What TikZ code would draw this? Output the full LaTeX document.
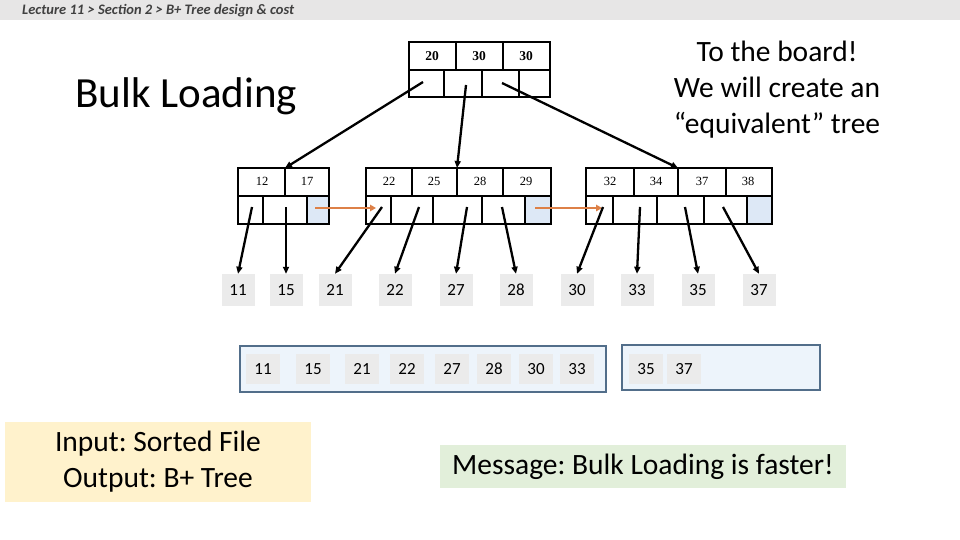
\documentclass[tikz,border=0pt]{standalone}
\usepackage{fontspec}
\setmainfont{Carlito}
\newfontfamily\keyfont{Liberation Serif}
\usepackage{tikz}
\usetikzlibrary{arrows.meta}
\definecolor{barbg}{RGB}{231,230,230}
\definecolor{bartext}{RGB}{64,64,64}
\definecolor{nextcell}{RGB}{221,232,246}
\definecolor{nextarrow}{RGB}{221,128,71}
\definecolor{entrygray}{RGB}{235,235,235}
\definecolor{pagefill}{RGB}{237,244,251}
\definecolor{pageline}{RGB}{82,110,138}
\definecolor{inputfill}{RGB}{255,242,204}
\definecolor{msgfill}{RGB}{226,239,218}
\frenchspacing

\tikzset{
  outline/.style={line width=2.4pt, line join=miter},
  divider/.style={line width=1.3pt},
  rootkey/.style={font=\keyfont\bfseries\fontsize{13.5}{15}\selectfont},
  leafkey/.style={font=\keyfont\fontsize{12.5}{14}\selectfont},
  ptr/.style={line width=2.3pt, -{Triangle[length=7pt,width=6pt]}},
  nextptr/.style={nextarrow, line width=2.6pt, -{Triangle[length=6pt,width=6.5pt]}},
  entry/.style={fill=entrygray, minimum width=33pt, minimum height=32pt, inner sep=0pt,
    font=\fontsize{17}{20}\selectfont},
  pageentry/.style={fill=entrygray, minimum width=34pt, minimum height=30pt, inner sep=0pt,
    font=\fontsize{17}{20}\selectfont},
  bigtext/.style={font=\fontsize{29.5}{36}\selectfont, align=center}
}

\begin{document}
\begin{tikzpicture}[x=1pt, y=-1pt]
  \useasboundingbox (0,0) rectangle (960,540);

  % header bar
  \fill[barbg] (0,0) rectangle (960,20);
  \node[anchor=base west, inner sep=0pt, text=bartext, font=\bfseries\itshape\fontsize{14.5}{16}\selectfont] (crumb) at (22,14.5)
    {Lecture 11 > Section 2 > B+ Tree design \& cost};

  \node[anchor=base west, inner sep=0pt, font=\fontsize{43}{50}\selectfont] (title) at (75,108) {Bulk Loading};
  \node[bigtext] (board) at (777,90) {To the board!\\We will create an\\“equivalent” tree};

  % root
  \draw[divider] (409,70) -- (550,70);
  \draw[divider] (456,42) -- (456,70);
  \draw[divider] (503,42) -- (503,70);
  \draw[divider] (444,70) -- (444,97);
  \draw[divider] (482,70) -- (482,97);
  \draw[divider] (519,70) -- (519,97);
  \draw[outline] (409,42) rectangle (550,97);
  \node[rootkey] (k20) at (432,56) {20};
  \node[rootkey] (k30a) at (479,56) {30};
  \node[rootkey] (k30b) at (526,56) {30};

  % leaf 1
  \fill[nextcell] (307,196) rectangle (329,224);
  \draw[divider] (238,196) -- (329,196);
  \draw[divider] (285,168) -- (285,196);
  \draw[divider] (263,196) -- (263,224);
  \draw[divider] (307,196) -- (307,224);
  \draw[outline] (238,168) rectangle (329,224);
  \node[leafkey] (k12) at (262,181) {12};
  \node[leafkey] (k17) at (307,181) {17};

  % leaf 2
  \fill[nextcell] (525,196) rectangle (551,224);
  \draw[divider] (366,196) -- (551,196);
  \draw[divider] (412,168) -- (412,196);
  \draw[divider] (457,168) -- (457,196);
  \draw[divider] (503,168) -- (503,196);
  \draw[divider] (391,196) -- (391,224);
  \draw[divider] (433,196) -- (433,224);
  \draw[divider] (482,196) -- (482,224);
  \draw[divider] (525,196) -- (525,224);
  \draw[outline] (366,168) rectangle (551,224);
  \node[leafkey] (k22) at (389,181) {22};
  \node[leafkey] (k25) at (434,181) {25};
  \node[leafkey] (k28) at (480,181) {28};
  \node[leafkey] (k29) at (526,181) {29};

  % leaf 3
  \fill[nextcell] (747,196) rectangle (772,224);
  \draw[divider] (586,196) -- (772,196);
  \draw[divider] (634,168) -- (634,196);
  \draw[divider] (678,168) -- (678,196);
  \draw[divider] (726,168) -- (726,196);
  \draw[divider] (613,196) -- (613,224);
  \draw[divider] (657,196) -- (657,224);
  \draw[divider] (704,196) -- (704,224);
  \draw[divider] (747,196) -- (747,224);
  \draw[outline] (586,168) rectangle (772,224);
  \node[leafkey] (k32) at (610,181) {32};
  \node[leafkey] (k34) at (656,181) {34};
  \node[leafkey] (k37) at (702,181) {37};
  \node[leafkey] (k38) at (748,181) {38};

  % pointer origins and ends
  \coordinate (r1) at (423,82);
  \coordinate (r2) at (466,85);
  \coordinate (r3) at (502,83);
  \coordinate (leafA) at (285,168);
  \coordinate (leafB) at (457,168);
  \coordinate (leafC) at (678,168);
  \coordinate (pa1) at (252,207);
  \coordinate (pa2) at (286,207);
  \coordinate (pb1) at (382,207);
  \coordinate (pb2) at (419,207);
  \coordinate (pb3) at (467,207);
  \coordinate (pb4) at (502,207);
  \coordinate (pc1) at (603,207);
  \coordinate (pc2) at (640,207);
  \coordinate (pc3) at (685,207);
  \coordinate (pc4) at (723,207);
  \coordinate (na) at (315,208);
  \coordinate (nb) at (376,208);
  \coordinate (nc) at (535,208);
  \coordinate (nd) at (602,208);

  \draw[ptr] (r1) -- (leafA);
  \draw[ptr] (r2) -- (leafB);
  \draw[ptr] (r3) -- (leafC);
  \draw[nextptr] (na) -- (nb);
  \draw[nextptr] (nc) -- (nd);

  % data entries
  \node[entry] (d11) at (238,290) {11};
  \node[entry] (d15) at (286,290) {15};
  \node[entry] (d21) at (335,290) {21};
  \node[entry] (d22) at (395,290) {22};
  \node[entry] (d27) at (456,290) {27};
  \node[entry] (d28) at (516,290) {28};
  \node[entry] (d30) at (577,290) {30};
  \node[entry] (d33) at (637,290) {33};
  \node[entry] (d35) at (698,290) {35};
  \node[entry] (d37) at (759,290) {37};

  \draw[ptr] (pa1) -- (d11.north);
  \draw[ptr] (pa2) -- (d15.north);
  \draw[ptr] (pb1) -- (d21.north);
  \draw[ptr] (pb2) -- (d22.north);
  \draw[ptr] (pb3) -- (d27.north);
  \draw[ptr] (pb4) -- (d28.north);
  \draw[ptr] (pc1) -- (d30.north);
  \draw[ptr] (pc2) -- (d33.north);
  \draw[ptr] (pc3) -- (d35.north);
  \draw[ptr] (pc4) -- (d37.north);

  % sorted file pages
  \draw[pageline, fill=pagefill, line width=2pt] (240,346) rectangle (606,392);
  \draw[pageline, fill=pagefill, line width=2pt] (622,345) rectangle (820,390);
  \node[pageentry] (f11) at (263,369) {11};
  \node[pageentry] (f15) at (313,369) {15};
  \node[pageentry] (f21) at (362,369) {21};
  \node[pageentry] (f22) at (407,369) {22};
  \node[pageentry] (f27) at (452,369) {27};
  \node[pageentry] (f28) at (494,369) {28};
  \node[pageentry] (f30) at (536,369) {30};
  \node[pageentry] (f33) at (577,369) {33};
  \node[pageentry] (f35) at (646,369) {35};
  \node[pageentry] (f37) at (684,369) {37};

  % notes
  \node[bigtext, fill=inputfill, minimum width=306pt, minimum height=80pt] (io) at (158,462)
    {Input: Sorted File\\Output: B+ Tree};
  \node[bigtext, fill=msgfill, minimum width=406pt, minimum height=43pt] (msg) at (643,466.5)
    {Message: Bulk Loading is faster!};
\end{tikzpicture}
\end{document}
